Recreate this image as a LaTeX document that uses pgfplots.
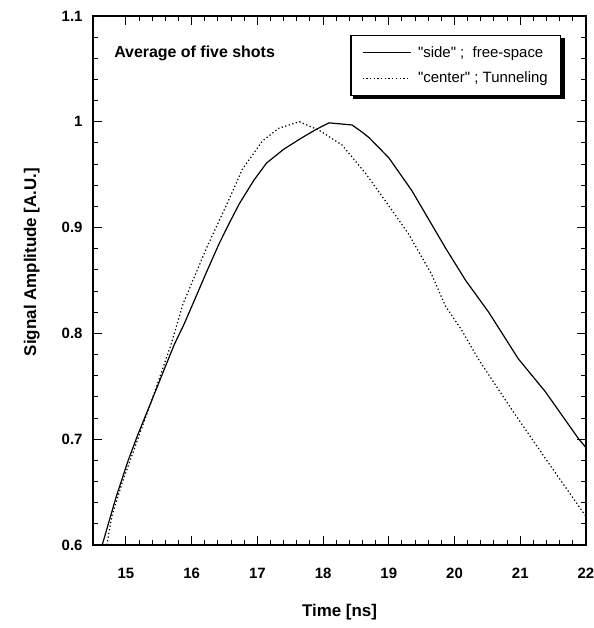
\documentclass[border=0pt]{standalone}
\usepackage{fontspec}
\setmainfont{Liberation Sans}
\usepackage{pgfplots}
\pgfplotsset{compat=1.18}
\usetikzlibrary{calc}

\begin{document}
\begin{tikzpicture}
\begin{axis}[name=ax,
  width=493bp,height=529bp,scale only axis,
  xmin=14.5,xmax=22,ymin=0.6,ymax=1.1,
  xtick={15,16,...,22},ytick={0.6,0.7,...,1.1},
  minor x tick num=4,minor y tick num=4,
  tick align=inside,major tick length=9bp,minor tick length=5bp,
  axis line style={line width=1.6bp},
  every tick/.style={black,line width=1bp},
  /pgf/number format/assume math mode=true,
  tick label style={font=\fontsize{15}{17}\selectfont\bfseries},
  xticklabel style={yshift=-20bp},
  yticklabel style={xshift=-7bp},
  xlabel={Time [ns]},
  ylabel={Signal Amplitude [A.U.]},
  label style={font=\fontsize{17}{20}\selectfont\bfseries},
  xlabel style={at={(axis description cs:0.5,0)},anchor=center,yshift=-67bp},
  ylabel style={at={(axis description cs:-0.124,0.535)},anchor=center},
  legend style={name=leg,at={(0.95,0.964)},anchor=north east,
    font=\fontsize{15}{18}\selectfont,draw=black,line width=1.2bp,
    fill=white,inner xsep=11bp,inner ysep=9bp,row sep=9bp,column sep=5bp,
    cells={anchor=west}},
  legend image code/.code={\draw[#1,line width=1bp] (0bp,0bp) -- (48bp,0bp);},
]
\addplot[black,line width=1.2bp] coordinates {
(14.64,0.600) (14.85,0.645) (15.03,0.679) (15.18,0.704) (15.39,0.736)
(15.59,0.767) (15.74,0.790) (15.88,0.808) (16.02,0.828) (16.22,0.857)
(16.42,0.885) (16.58,0.905) (16.73,0.923) (16.95,0.945) (17.14,0.961)
(17.40,0.974) (17.68,0.985) (17.90,0.993) (18.09,0.999) (18.44,0.997)
(18.60,0.990) (18.70,0.985) (19.00,0.966) (19.35,0.935) (19.86,0.881)
(20.17,0.850) (20.52,0.820) (20.97,0.776) (21.38,0.745) (21.88,0.701)
(22.00,0.692)};
\addlegendentry{\textquotedbl side\textquotedbl\ ;\ \ free-space}
\addplot[black,line width=1.2bp,dash pattern=on 1.3bp off 2.4bp] coordinates {
(14.71,0.600) (14.79,0.628) (14.95,0.660) (15.10,0.686) (15.40,0.738)
(15.68,0.788) (15.87,0.828) (16.23,0.881) (16.58,0.928) (16.77,0.955)
(17.08,0.982) (17.33,0.994) (17.64,1.000) (17.94,0.992) (18.29,0.978)
(18.65,0.951) (18.95,0.925) (19.30,0.894) (19.65,0.856) (19.86,0.826)
(20.10,0.804) (20.36,0.776) (20.86,0.729) (21.38,0.682) (21.92,0.634)
(22.00,0.627)};
\addlegendentry{\textquotedbl center\textquotedbl\ ; Tunneling}
\node[anchor=west,font=\fontsize{16}{19}\selectfont\bfseries]
  at (axis description cs:0.036,0.930) {Average of five shots};
\end{axis}
\fill[black] ($(leg.south west)+(3bp,0)$) rectangle ($(leg.south east)+(3.5bp,-3.5bp)$);
\fill[black] ($(leg.north east)+(0,-3bp)$) rectangle ($(leg.south east)+(3.5bp,0)$);
\pgfresetboundingbox
\path ($(ax.south west)+(-93bp,-83bp)$) rectangle ($(ax.north east)+(8bp,16bp)$);
\end{tikzpicture}
\end{document}
